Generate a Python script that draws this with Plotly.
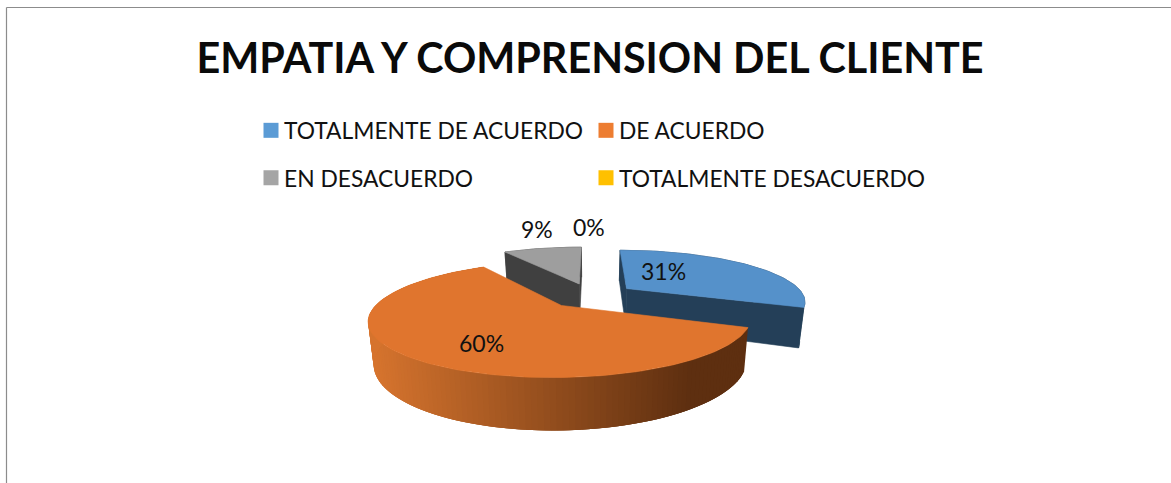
import math
import plotly.graph_objects as go

TITLE = "EMPATIA Y COMPRENSION DEL CLIENTE"
categories = ["TOTALMENTE DE ACUERDO", "DE ACUERDO", "EN DESACUERDO", "TOTALMENTE DESACUERDO"]
values = [31, 60, 9, 0]
legend_colors = ["#5B9BD5", "#ED7D31", "#A5A5A5", "#FFC000"]
top_colors = ["#5591CA", "#E0752E", "#9E9E9E", "#FFC000"]
wall_colors = ["#243F58", None, "#404040", "#7F6000"]

# view of the tilted pie (perspective projection, pixels)
CX, CY, AX, BY, KP, HT, LOW = 591.0, 295.4, 177.5, 50.0, 0.23, 38.4, 0.975
EXPLODE = 0.25
GRAD_LEFT, GRAD_RIGHT = (214, 116, 46), (94, 47, 16)
GRAD_X0, GRAD_X1 = 372, 690

LABEL_PX = [(663, 271), (481, 343), (537, 229), (589, 227)]
LEGEND_PX = [(244, 130.5), (579, 130.5), (244, 178), (579, 178)]


def project(x, y, low=False):
    s = 1 / (1 + KP * y)
    px = CX + AX * x * s
    py = CY - BY * y * s
    if low:
        px = CX + (px - CX) * LOW
        py = py + HT * s
    return px, py


def lerp_color(t):
    t = max(0, min(1, t))
    c = [round(a + (b - a) * t) for a, b in zip(GRAD_LEFT, GRAD_RIGHT)]
    return "rgb(%d,%d,%d)" % tuple(c)


def poly(pts, color, width=0.6):
    xs = [p[0] for p in pts] + [pts[0][0]]
    ys = [p[1] for p in pts] + [pts[0][1]]
    return go.Scatter(x=xs, y=ys, mode="lines", fill="toself", fillcolor=color,
                      line=dict(color=color, width=width), hoverinfo="skip", showlegend=False)


total = sum(values)
slices = []
acc = 0
for v in values:
    a0 = acc / total * 2 * math.pi
    a1 = (acc + v) / total * 2 * math.pi
    acc += v
    mid = (a0 + a1) / 2
    ox, oy = EXPLODE * math.sin(mid), EXPLODE * math.cos(mid)
    n = max(2, int((a1 - a0) / (2 * math.pi) * 240))
    rim = [(ox + math.sin(a0 + (a1 - a0) * i / n), oy + math.cos(a0 + (a1 - a0) * i / n)) for i in range(n + 1)]
    slices.append(dict(o=(ox, oy), rim=rim))

fig = go.Figure()


def draw(i):
    sl = slices[i]
    o, rim = sl["o"], sl["rim"]
    if wall_colors[i]:
        # outer wall and both cut faces
        outer = [project(*p) for p in rim] + [project(*p, low=True) for p in reversed(rim)]
        fig.add_trace(poly(outer, wall_colors[i]))
        for e in (rim[0], rim[-1]):
            fig.add_trace(poly([project(*o), project(*e), project(*e, low=True), project(*o, low=True)], wall_colors[i]))
    else:
        # gradient wall: each band overlaps the next so no seams show
        last = len(rim) - 1
        for k in range(last):
            a, b = rim[k], rim[min(k + 3, last)]
            q = [project(*a), project(*b), project(*b, low=True), project(*a, low=True)]
            mx = (project(*rim[k])[0] + project(*rim[k + 1])[0]) / 2
            fig.add_trace(poly(q, lerp_color((mx - GRAD_X0) / (GRAD_X1 - GRAD_X0)), width=0))
    fig.add_trace(poly([project(*o)] + [project(*p) for p in rim], top_colors[i]))


for i in (2, 0, 1):
    draw(i)

# legend entries, one positioned legend per item
legends = {}
for i, (name, color) in enumerate(zip(categories, legend_colors)):
    key = "legend" if i == 0 else "legend%d" % (i + 1)
    fig.add_trace(go.Scatter(x=[None], y=[None], mode="markers", name=name, legend=key,
                             marker=dict(symbol="square", size=15, color=color)))
    lx, ly = LEGEND_PX[i]
    legends[key] = dict(x=lx / 1171, y=1 - ly / 483, xanchor="left", yanchor="middle",
                        bgcolor="rgba(0,0,0,0)", font=dict(family="Lato", size=22.8, color="#111111"),
                        itemclick=False, itemdoubleclick=False)

annotations = [dict(x=px, y=py, xref="x", yref="y", text="%d%%" % round(v / total * 100), showarrow=False,
                    font=dict(family="Lato", size=23, color="#111111"))
               for v, (px, py) in zip(values, LABEL_PX)]

layout = dict(
    width=1171, height=483, autosize=False,
    margin=dict(l=0, r=0, t=0, b=0),
    paper_bgcolor="white", plot_bgcolor="white",
    title=dict(text="<b>%s</b>" % TITLE, x=590 / 1171, y=1 - 59 / 483, xref="paper", yref="container",
               xanchor="center", yanchor="middle",
               font=dict(family="Lato", size=41.3, color="#0a0a0a")),
    xaxis=dict(range=[0, 1171], visible=False, fixedrange=True),
    yaxis=dict(range=[483, 0], visible=False, fixedrange=True),
    annotations=annotations,
    shapes=[dict(type="line", xref="x", yref="y", x0=6.5, x1=1171, y0=7.5, y1=7.5, line=dict(color="#8c8c8c", width=1.2)),
            dict(type="line", xref="x", yref="y", x0=6.5, x1=6.5, y0=7.5, y1=483, line=dict(color="#8c8c8c", width=1.2))],
)
layout.update(legends)
fig.update_layout(**layout)
POST = """
document.body.style.margin='0';
function nudge(){document.querySelectorAll('.legendsymbols').forEach(function(g){g.setAttribute('transform','translate(7,0)');});}
nudge(); setTimeout(nudge,50);
"""
fig.write_html("out.html", config=dict(displayModeBar=False), post_script=POST)
